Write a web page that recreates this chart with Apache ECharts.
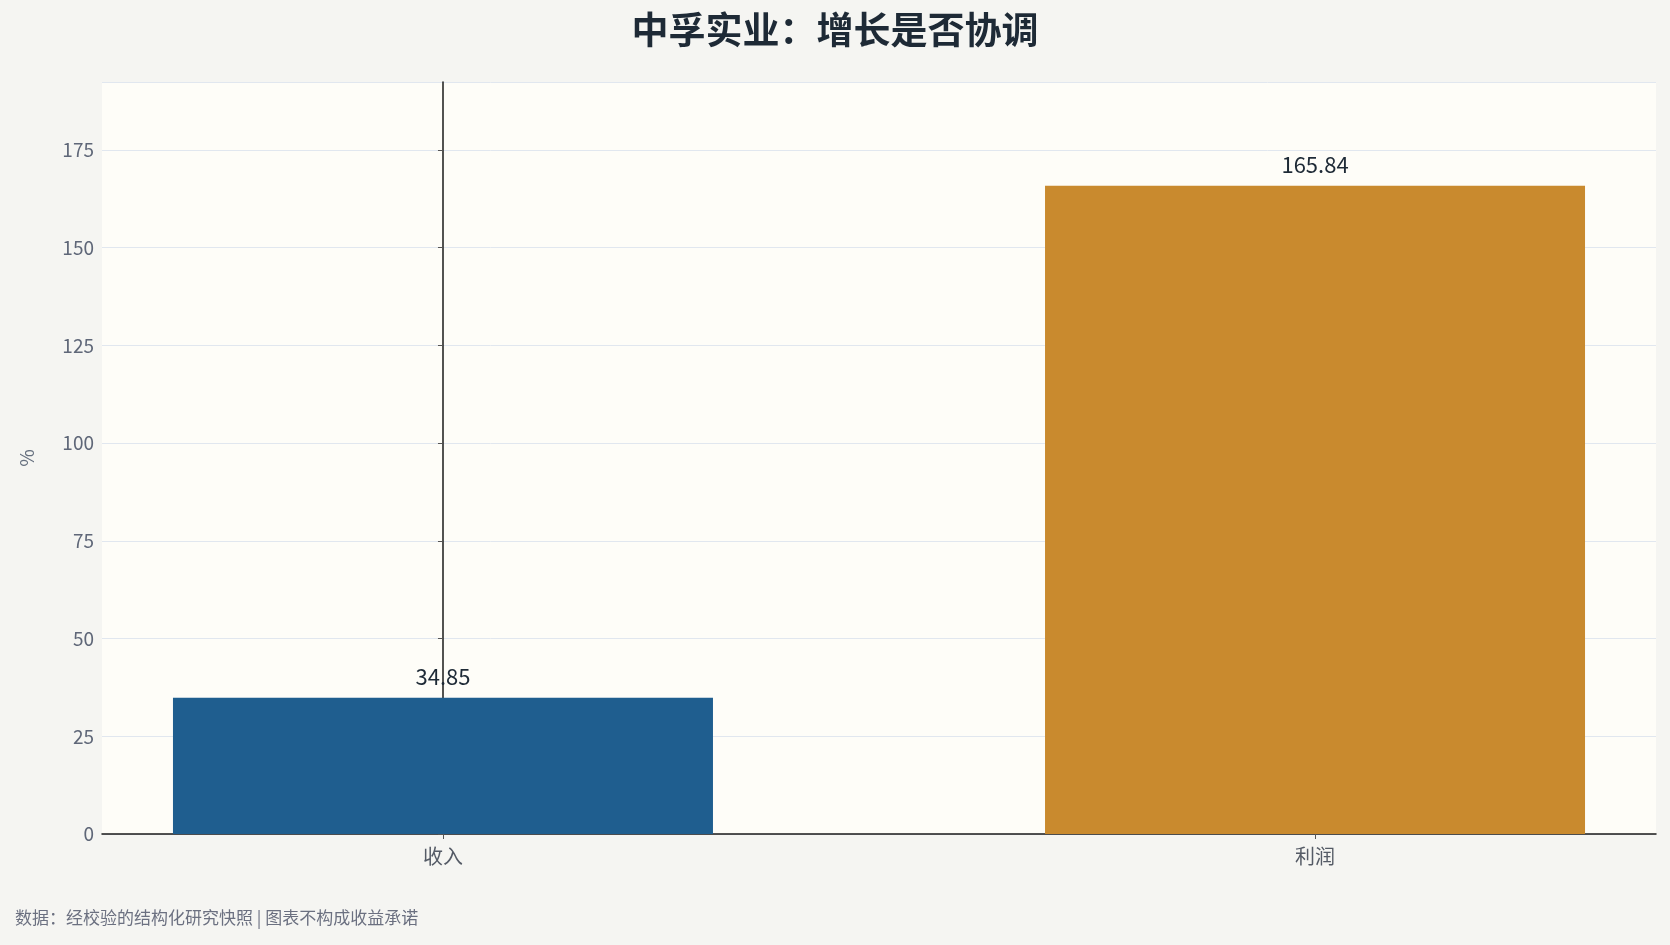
<!DOCTYPE html>
<html><head><meta charset="utf-8">
<script src="https://cdn.jsdelivr.net/npm/echarts@6/dist/echarts.min.js"></script>
<style>html,body{margin:0;padding:0;background:#f5f5f2;}#main{width:1670px;height:945px;}</style>
</head><body><div id="main"></div>
<script>
var categories = ['收入', '利润'];
var values = [34.85, 165.84];
var colors = ['#1f5e8f', '#c98a2e'];

var chart = echarts.init(document.getElementById('main'));
chart.setOption({
    backgroundColor: '#f5f5f2',
    textStyle: {fontFamily: 'Noto Sans CJK SC'},
    title: {
        text: '中孚实业：增长是否协调',
        left: 'center', top: 6,
        textStyle: {fontSize: 37, fontWeight: 'bold', color: '#1e2a36', fontFamily: 'Noto Sans CJK SC'}
    },
    graphic: [{
        type: 'text', left: 15, top: 909,
        style: {text: '数据：经校验的结构化研究快照 | 图表不构成收益承诺', fill: '#6b7080', fontSize: 17, fontFamily: 'Noto Sans CJK SC'}
    }],
    grid: {left: 102, right: 14, top: 82, bottom: 111, backgroundColor: '#fefdf8', show: true, borderWidth: 0},
    xAxis: {
        type: 'value', min: -0.391, max: 1.391,
        splitLine: {show: false},
        axisLine: {lineStyle: {color: '#1a1a1a', width: 1.5}},
        axisTick: {customValues: [0, 1], lineStyle: {color: '#555'}},
        axisLabel: {customValues: [0, 1], fontSize: 20, color: '#555b66', margin: 12,
            formatter: function (v) { return categories[Math.round(v)]; }}
    },
    yAxis: {
        type: 'value', min: 0, max: 192.4, interval: 25,
        name: '%', nameLocation: 'middle', nameGap: 66,
        nameTextStyle: {fontSize: 19, color: '#66707f'},
        axisLine: {show: true, lineStyle: {color: '#1a1a1a', width: 1.5}},
        axisTick: {show: true, lineStyle: {color: '#555'}},
        axisLabel: {fontSize: 19, color: '#5f6778', showMaxLabel: false},
        splitLine: {lineStyle: {color: '#e1e7ef'}}
    },
    series: [{
        type: 'bar', barWidth: 540,
        data: values.map(function (v, i) { return {value: [i, v], itemStyle: {color: colors[i]}}; }),
        label: {show: true, position: 'top', distance: 10, fontSize: 22, color: '#1e2a36',
            formatter: function (p) { return p.value[1].toFixed(2); }}
    }]
});
</script></body></html>
